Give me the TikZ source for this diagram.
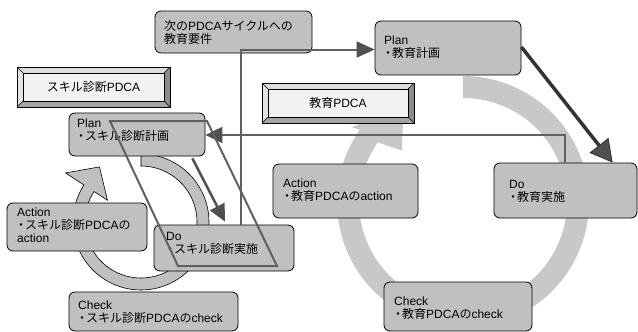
\documentclass[tikz,border=0pt]{standalone}
\usepackage{fontspec}
\setmainfont{Liberation Sans}
\newfontfamily\jp{Noto Sans CJK JP}
\usetikzlibrary{arrows.meta}
\definecolor{boxgray}{HTML}{C0C0C0}
\definecolor{ringgray}{HTML}{C8C8C8}
\definecolor{linegray}{HTML}{606060}
\definecolor{headgray}{HTML}{505050}
\definecolor{bevface}{HTML}{F2F2F2}
\definecolor{bevtop}{HTML}{DCDCDC}
\definecolor{bevleft}{HTML}{E4E4E4}
\definecolor{bevright}{HTML}{8C8C8C}
\definecolor{bevbot}{HTML}{A4A4A4}
\newcommand\dt{\makebox[8pt][c]{\jp ・}}
\tikzset{
  pbox/.style={draw=black, line width=0.8pt, fill=boxgray, rounded corners=6pt, inner sep=0pt},
  lbl/.style={anchor=west, inner sep=0pt, align=left, font=\fontsize{12}{13}\selectfont},
  conn/.style={draw=linegray, line width=2pt},
  bevel/.style={draw=black, line width=0.8pt, fill=bevface, inner sep=0pt,
    font=\fontsize{12}{13}\selectfont,
    path picture={
      \coordinate (NW) at (path picture bounding box.north west);
      \coordinate (NE) at (path picture bounding box.north east);
      \coordinate (SW) at (path picture bounding box.south west);
      \coordinate (SE) at (path picture bounding box.south east);
      \fill[bevtop] (NW) -- (NE) -- ([shift={(-6,6)}]NE) -- ([shift={(6,6)}]NW) -- cycle;
      \fill[bevleft] (NW) -- ([shift={(6,6)}]NW) -- ([shift={(6,-6)}]SW) -- (SW) -- cycle;
      \fill[bevright] (NE) -- (SE) -- ([shift={(-6,-6)}]SE) -- ([shift={(-6,6)}]NE) -- cycle;
      \fill[bevbot] (SW) -- (SE) -- ([shift={(-6,-6)}]SE) -- ([shift={(6,-6)}]SW) -- cycle;
      \draw[black, line width=0.5pt] (NW) -- ([shift={(6,6)}]NW) (NE) -- ([shift={(-6,6)}]NE)
        (SW) -- ([shift={(6,-6)}]SW) (SE) -- ([shift={(-6,-6)}]SE);
      \draw[black, line width=0.8pt] ([shift={(6,6)}]NW) rectangle ([shift={(-6,-6)}]SE);
    }},
}
\begin{document}
\begin{tikzpicture}[x=1pt, y=-1pt]
\useasboundingbox (0,0) rectangle (638,332);
\fill[white] (0,0) rectangle (638,332);

% big ring
\begin{scope}[shift={(463,202)}]
\fill[ringgray] plot[domain=-90:215, samples=120] (\x:126) -- (214:134) -- (238:112) -- (220:80) -- (215:104)
  -- plot[domain=215:-90, samples=120] (\x:104) -- cycle;
\end{scope}
% small ring
\begin{scope}[shift={(141,222)}]
\filldraw[fill=boxgray, draw=black, line width=0.6pt] plot[domain=-90:213, samples=100] (\x:68) -- (213:90) -- (233:69) -- (213:40) -- (213:56)
  -- plot[domain=213:-90, samples=100] (\x:56) -- cycle;
\end{scope}

% boxes
\node[pbox, minimum width=157pt, minimum height=42pt] (need) at (233.5,32) {};
\node[pbox, minimum width=146pt, minimum height=54pt] (plan2) at (448,48) {};
\node[pbox, minimum width=143pt, minimum height=55pt] (do2) at (565.5,190.5) {};
\node[pbox, minimum width=145pt, minimum height=54pt] (act2) at (345.5,191) {};
\node[pbox, minimum width=148pt, minimum height=49pt] (chk2) at (458,306.5) {};
\node[pbox, minimum width=136pt, minimum height=43pt] (plan1) at (137,134.5) {};
\node[pbox, minimum width=140pt, minimum height=46pt] (do1) at (224,248) {};
\node[pbox, minimum width=140pt, minimum height=48pt] (act1) at (77,227) {};
\node[pbox, minimum width=169pt, minimum height=39pt] (chk1) at (153.5,311.5) {};

% bevel boxes
\node[bevel, minimum width=153pt, minimum height=40pt] (bev1) at (93.5,87) {{\jp スキル診断}PDCA};
\node[bevel, minimum width=152pt, minimum height=40pt] (bev2) at (338,103) {{\jp 教育}PDCA};

% texts
\node[lbl] (tneed) at (164,32.5) {{\jp 次の}PDCA{\jp サイクルへの}\\{\jp 教育要件}};
\node[lbl] (tplan2) at (384,47.5) {Plan\\\dt{\jp 教育計画}};
\node[lbl] (tdo2) at (509,191.5) {Do\\\dt{\jp 教育実施}};
\node[lbl] (tact2) at (283,190) {Action\\\dt{\jp 教育}PDCA{\jp の}action};
\node[lbl] (tchk2) at (394,308.5) {Check\\\dt{\jp 教育}PDCA{\jp の}check};
\node[lbl] (tplan1) at (77,130) {Plan\\\dt{\jp スキル診断計画}};
\node[lbl] (tdo1) at (166,243) {Do\\\dt{\jp スキル診断実施}};
\node[lbl] (tact1) at (17,225.5) {Action\\\dt{\jp スキル診断}PDCA{\jp の}\\action};
\node[lbl] (tchk1) at (78,312.5) {Check\\\dt{\jp スキル診断}PDCA{\jp の}check};

% connectors
\coordinate (c1) at (241,49.5);
\coordinate (c2) at (565,135);
\draw[conn, -{Triangle[length=18pt, width=16pt, color=headgray]}] (c1 |- do1.north) -- (c1) -- (c1 -| plan2.west);
\draw[conn, -{Triangle[length=17pt, width=16pt, color=headgray]}] (c2 |- do2.north) -- (c2) -- (c2 -| plan1.east);
\draw[line width=3.5pt, draw=black!80, -{Triangle[length=22pt, width=24pt, fill=headgray, line width=0.8pt]}]
  ([yshift=1pt]plan2.east) -- ([xshift=119pt]do2.north west);
\draw[line width=2.5pt, draw=headgray, -{Triangle[length=17pt, width=16pt, color=headgray]}]
  ([shift={(-13,2)}]plan1.south east) -- ([shift={(1,-3)}]do1.north);

% parallelogram
\draw[linegray, line width=2pt, line join=miter] (110,121) -- (207,121) -- (277,266) -- (178,266) -- cycle;
\end{tikzpicture}
\end{document}
